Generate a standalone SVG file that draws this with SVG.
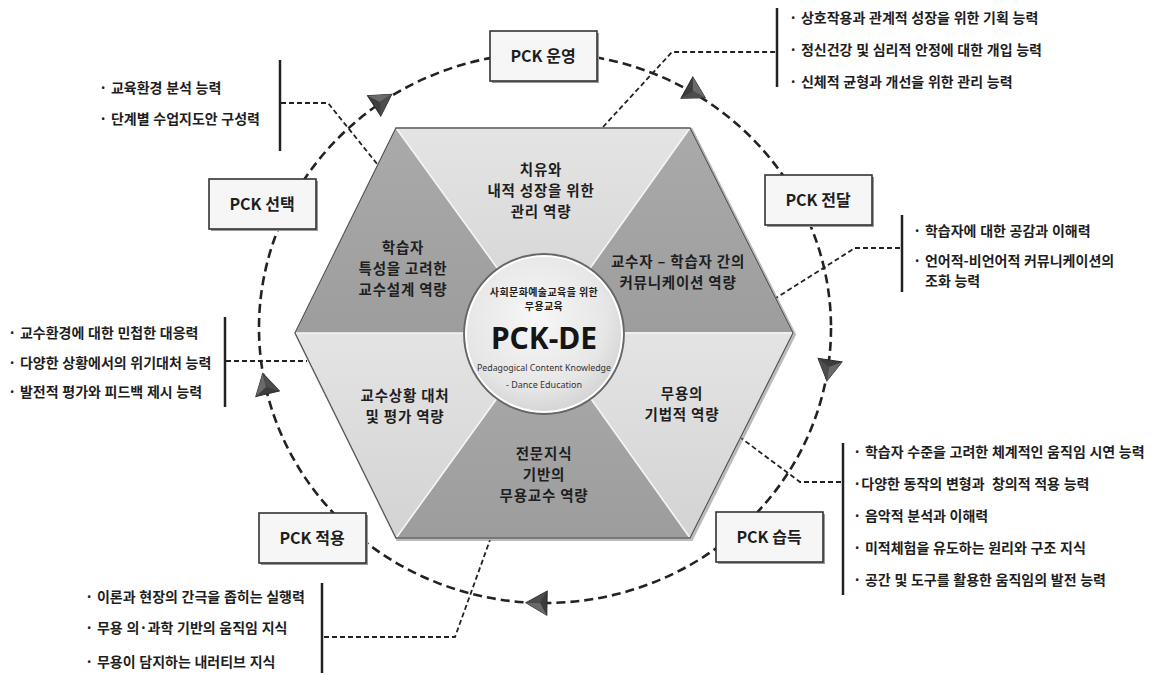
<svg xmlns="http://www.w3.org/2000/svg" width="1154" height="675" viewBox="0 0 1154 675">
<defs>
<style>
.t{font-family:"Noto Sans CJK KR","Noto Sans",sans-serif;font-weight:bold;fill:#1e1e1e}
.seg{font-size:14.5px;letter-spacing:0.8px;text-anchor:middle}
.lst{font-size:14px;word-spacing:0.5px}
.lbl{font-size:16px;text-anchor:middle}
.bar{stroke:#222;stroke-width:2.5;fill:none}
.dc{stroke:#222;stroke-width:1.8;stroke-dasharray:5 3;fill:none}
.ring{stroke:#222;stroke-width:2.6;stroke-dasharray:9 5;fill:none}
.box{fill:#f6f6f6;stroke:#333;stroke-width:1.6}
.shd{fill:#9a9a9a}
.lt{fill:url(#gl);stroke:#f4f4f4;stroke-width:1.5;stroke-linejoin:round}
.dk{fill:url(#gd);stroke:#f4f4f4;stroke-width:1.5;stroke-linejoin:round}
</style>
<linearGradient id="gl" x1="0" y1="0" x2="0" y2="1">
<stop offset="0" stop-color="#e4e4e4"/><stop offset="1" stop-color="#d3d3d3"/>
</linearGradient>
<linearGradient id="gd" x1="0" y1="0" x2="0" y2="1">
<stop offset="0" stop-color="#aaaaaa"/><stop offset="1" stop-color="#9d9d9d"/>
</linearGradient>
<radialGradient id="gc" cx="0.45" cy="0.4" r="0.65">
<stop offset="0" stop-color="#f7f7f7"/><stop offset="0.7" stop-color="#e6e6e6"/><stop offset="1" stop-color="#cfcfcf"/>
</radialGradient>
<g id="arw">
<path d="M14,0 L-7,12.1 L-7,-12.1 Z" fill="#3c3c3c" stroke="#2a2a2a" stroke-width="1"/>
<path d="M14,0 L-7,-12.1 L0,0 Z" fill="#6a6a6a"/>
<path d="M14,0 L-7,12.1 L0,0 Z" fill="#4d4d4d"/>
</g>
</defs>
<rect width="1154" height="675" fill="#ffffff"/>

<g id="cycle">
<ellipse class="ring" cx="545" cy="328" rx="286" ry="275"/>
<use href="#arw" transform="translate(380,102) rotate(-33.4)"/>
<use href="#arw" transform="translate(693,91) rotate(29.2)"/>
<use href="#arw" transform="translate(829,367) rotate(98.6)"/>
<use href="#arw" transform="translate(540,603) rotate(181)"/>
<use href="#arw" transform="translate(266,387) rotate(-103.4)"/>
</g>

<g id="connectors">
<polyline class="dc" points="603,127 672,52 776,52"/>
<polyline class="dc" points="281,103 328,103 378,165"/>
<polyline class="dc" points="226,361 307,361"/>
<polyline class="dc" points="900,248 855,248 776,298"/>
<polyline class="dc" points="841,482 800,482 741,438"/>
<polyline class="dc" points="324,637 455,637 490,540"/>
</g>

<g id="hexagon">
<polygon points="396,128 690,128 793,333 690,538 396,538 295,333" fill="none" stroke="#777" stroke-width="3" transform="translate(1.5,1.5)" opacity="0.5"/>
<polygon id="seg-top" class="lt" points="544,333 396,128 690,128"/>
<polygon id="seg-ur" class="dk" points="544,333 690,128 793,333"/>
<polygon id="seg-lr" class="lt" points="544,333 793,333 690,538"/>
<polygon id="seg-bot" class="dk" points="544,333 690,538 396,538"/>
<polygon id="seg-ll" class="lt" points="544,333 396,538 295,333"/>
<polygon id="seg-ul" class="dk" points="544,333 295,333 396,128"/>
<polygon points="396,128 690,128 793,333 690,538 396,538 295,333" fill="none" stroke="#555" stroke-width="1.3"/>
</g>

<g id="seg-texts">
<text class="t seg" x="541" y="175">치유와</text>
<text class="t seg" x="541" y="196">내적 성장을 위한</text>
<text class="t seg" x="541" y="217">관리 역량</text>
<text class="t seg" x="403" y="253">학습자</text>
<text class="t seg" x="403" y="274">특성을 고려한</text>
<text class="t seg" x="403" y="295">교수설계 역량</text>
<text class="t seg" x="678" y="267">교수자 – 학습자 간의</text>
<text class="t seg" x="678" y="288">커뮤니케이션 역량</text>
<text class="t seg" x="405" y="401">교수상황 대처</text>
<text class="t seg" x="405" y="422">및 평가 역량</text>
<text class="t seg" x="682" y="399">무용의</text>
<text class="t seg" x="682" y="420">기법적 역량</text>
<text class="t seg" x="544" y="459">전문지식</text>
<text class="t seg" x="544" y="480">기반의</text>
<text class="t seg" x="544" y="501">무용교수 역량</text>
</g>

<g id="center">
<circle cx="544" cy="334" r="80" fill="#bdbdbd"/>
<circle cx="544" cy="334" r="78" fill="url(#gc)" stroke="#fff" stroke-width="2"/>
<circle cx="544" cy="334" r="80" fill="none" stroke="#666" stroke-width="1.8"/>
<text class="t" x="544" y="296" font-size="10" letter-spacing="0.4" text-anchor="middle">사회문화예술교육을 위한</text>
<text class="t" x="544" y="310" font-size="10" letter-spacing="0.4" text-anchor="middle">무용교육</text>
<text x="544" y="349" font-size="30" font-weight="bold" text-anchor="middle" fill="#151515" font-family="'Noto Sans','Liberation Sans',sans-serif">PCK-DE</text>
<text x="544" y="371" font-size="9" text-anchor="middle" textLength="134" lengthAdjust="spacingAndGlyphs" fill="#333" font-family="'Noto Sans','Liberation Sans',sans-serif">Pedagogical Content Knowledge</text>
<text x="544" y="388" font-size="9" text-anchor="middle" fill="#333" font-family="'Noto Sans','Liberation Sans',sans-serif">- Dance Education</text>
</g>

<g id="box-unyeong">
<rect class="shd" x="492" y="33" width="107" height="50"/>
<rect class="box" x="490" y="31" width="107" height="50"/>
<text class="t lbl" x="543" y="62">PCK 운영</text>
</g>
<g id="box-seontaek">
<rect class="shd" x="211" y="181" width="107" height="50"/>
<rect class="box" x="209" y="179" width="107" height="50"/>
<text class="t lbl" x="262" y="210">PCK 선택</text>
</g>
<g id="box-jeondal">
<rect class="shd" x="767" y="177" width="107" height="50"/>
<rect class="box" x="765" y="175" width="107" height="50"/>
<text class="t lbl" x="818" y="206">PCK 전달</text>
</g>
<g id="box-jeogyong">
<rect class="shd" x="261" y="515" width="107" height="50"/>
<rect class="box" x="259" y="513" width="107" height="50"/>
<text class="t lbl" x="312" y="544">PCK 적용</text>
</g>
<g id="box-seupdeuk">
<rect class="shd" x="718" y="514" width="107" height="50"/>
<rect class="box" x="716" y="512" width="107" height="50"/>
<text class="t lbl" x="769" y="543">PCK 습득</text>
</g>

<g id="list-unyeong">
<line class="bar" x1="777" y1="8" x2="777" y2="87"/>
<text class="t lst" x="789" y="23">· 상호작용과 관계적 성장을 위한 기획 능력</text>
<text class="t lst" x="789" y="55">· 정신건강 및 심리적 안정에 대한 개입 능력</text>
<text class="t lst" x="789" y="87">· 신체적 균형과 개선을 위한 관리 능력</text>
</g>
<g id="list-seontaek">
<line class="bar" x1="280" y1="60" x2="280" y2="151"/>
<text class="t lst" x="99" y="93">· 교육환경 분석 능력</text>
<text class="t lst" x="99" y="124">· 단계별 수업지도안 구성력</text>
</g>
<g id="list-left">
<line class="bar" x1="225" y1="317" x2="225" y2="407"/>
<text class="t lst" x="8" y="338">· 교수환경에 대한 민첩한 대응력</text>
<text class="t lst" x="8" y="368">· 다양한 상황에서의 위기대처 능력</text>
<text class="t lst" x="8" y="397">· 발전적 평가와 피드백 제시 능력</text>
</g>
<g id="list-jeondal">
<line class="bar" x1="902" y1="215" x2="902" y2="292"/>
<text class="t lst" x="913" y="236">· 학습자에 대한 공감과 이해력</text>
<text class="t lst" x="913" y="266">· 언어적-비언어적 커뮤니케이션의</text>
<text class="t lst" x="925" y="286">조화 능력</text>
</g>
<g id="list-seupdeuk">
<line class="bar" x1="843" y1="443" x2="843" y2="595"/>
<text class="t lst" x="853" y="457">· 학습자 수준을 고려한 체계적인 움직임 시연 능력</text>
<text class="t lst" x="853" y="489" xml:space="preserve">·다양한 동작의 변형과  창의적 적용 능력</text>
<text class="t lst" x="853" y="521">· 음악적 분석과 이해력</text>
<text class="t lst" x="853" y="553">· 미적체험을 유도하는 원리와 구조 지식</text>
<text class="t lst" x="853" y="585">· 공간 및 도구를 활용한 움직임의 발전 능력</text>
</g>
<g id="list-jeogyong">
<line class="bar" x1="322" y1="583" x2="322" y2="673"/>
<text class="t lst" x="85" y="602">· 이론과 현장의 간극을 좁히는 실행력</text>
<text class="t lst" x="85" y="633">· 무용 의·과학 기반의 움직임 지식</text>
<text class="t lst" x="85" y="667">· 무용이 담지하는 내러티브 지식</text>
</g>
</svg>
